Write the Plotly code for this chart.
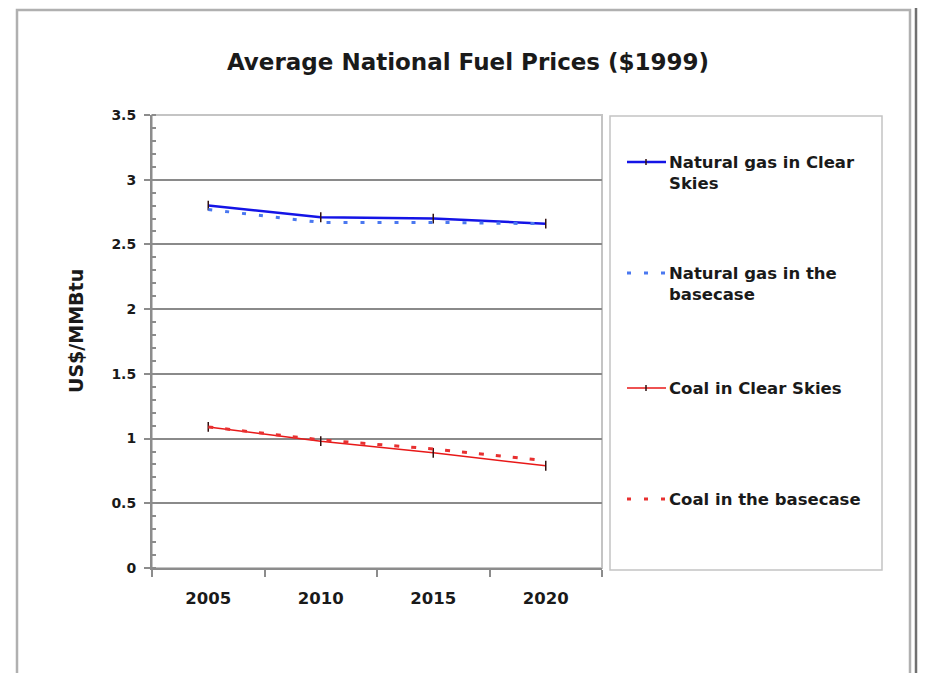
import plotly.graph_objects as go

# data
years = ["2005", "2010", "2015", "2020"]
ng_clear = [2.80, 2.71, 2.70, 2.66]
ng_base = [2.77, 2.67, 2.67, 2.66]
coal_clear = [1.09, 0.98, 0.89, 0.79]
coal_base = [1.09, 0.99, 0.92, 0.83]

names = [
    "Natural gas in Clear<br>Skies",
    "Natural gas in the<br>basecase",
    "Coal in Clear Skies",
    "Coal in the basecase",
]
colors = ["#1414e6", "#4a78f0", "#e81818", "#e83030"]
dashes = ["solid", "4px,13px", "solid", "5px,12px"]
widths = [2.5, 3, 1.5, 3]
series = [ng_clear, ng_base, coal_clear, coal_base]

OFF = 8  # page body margin in the browser
W, H = 926 - OFF, 673 - OFF
L, R, T, B = 152, 602, 115, 568  # plot area in page pixels
FONT = "DejaVu Sans"


def px(x, y):
    # page pixel -> paper coords
    return (x - L) / (R - L), (B - y) / (B - T)


fig = go.Figure()
for i, vals in enumerate(series):
    fig.add_trace(go.Scatter(
        x=years, y=vals, mode="lines+markers" if dashes[i] == "solid" else "lines",
        line=dict(color=colors[i], width=widths[i], dash=dashes[i]),
        marker=dict(symbol="line-ns", size=7, line=dict(color="#301010", width=1.5)),
        showlegend=False, hoverinfo="x+y",
    ))

shapes = []
annotations = []

# plot border (light) and legend box
shapes.append(dict(type="rect", xref="paper", yref="paper", x0=0, y0=0, x1=1, y1=1,
                   line=dict(color="#c4c4c4", width=2), layer="below"))
lx0, ly0 = px(610, 570)
lx1, ly1 = px(882, 116)
shapes.append(dict(type="rect", xref="paper", yref="paper", x0=lx0, y0=ly0, x1=lx1, y1=ly1,
                   line=dict(color="#c4c4c4", width=1.5)))

# outer frame
fx0, fy0 = px(17, 700)
fx1, fy1 = px(910, 10)
shapes.append(dict(type="rect", xref="paper", yref="paper", x0=fx0, y0=fy0, x1=fx1, y1=fy1,
                   line=dict(color="#b0b0b0", width=2.5)))
dx, _ = px(916, 0)
shapes.append(dict(type="line", xref="paper", yref="paper", x0=dx, x1=dx, y0=px(0, 700)[1], y1=px(0, 0)[1],
                   line=dict(color="#707070", width=2.5)))

# legend entries
legend_y = [162, 273, 388, 499]
for i, name in enumerate(names):
    sx0, sy = px(627, legend_y[i])
    sx1, _ = px(666, legend_y[i])
    shapes.append(dict(type="line", xref="paper", yref="paper", x0=sx0, x1=sx1, y0=sy, y1=sy,
                       line=dict(color=colors[i], width=widths[i] if dashes[i] == "solid" else 3,
                                 dash=dashes[i] if dashes[i] == "solid" else "4px,13px")))
    if dashes[i] == "solid":
        mx, _ = px(646, legend_y[i])
        shapes.append(dict(type="line", xref="paper", yref="paper", x0=mx, x1=mx,
                           y0=px(0, legend_y[i] + 3)[1], y1=px(0, legend_y[i] - 3)[1],
                           line=dict(color="#301010", width=1.5)))
    tx, _ = px(667, 0)
    ty = px(0, legend_y[i] - 11)[1]
    annotations.append(dict(x=tx, y=ty, xref="paper", yref="paper", text="<b>" + name + "</b>",
                            showarrow=False, xanchor="left", yanchor="top", align="left",
                            font=dict(family=FONT, size=16.5, color="#1a1a1a")))

# y axis title
ax, ay = px(76, 331)
annotations.append(dict(x=ax, y=ay, xref="paper", yref="paper", text="<b>US$/MMBtu</b>",
                        textangle=-90, showarrow=False, xanchor="center", yanchor="middle",
                        font=dict(family=FONT, size=19, color="#1a1a1a")))

fig.update_layout(
    width=W, height=H,
    margin=dict(l=L - OFF, r=W - (R - OFF), t=T - OFF, b=H - (B - OFF), pad=0),
    paper_bgcolor="white", plot_bgcolor="white",
    title=dict(text="<b>Average National Fuel Prices ($1999)</b>", x=(468 - OFF) / W, xanchor="center",
               y=1 - (62 - OFF) / H, yanchor="middle",
               font=dict(family=FONT, size=23, color="#1a1a1a")),
    shapes=shapes, annotations=annotations,
    font=dict(family=FONT, color="#1a1a1a"),
)
fig.update_xaxes(
    type="category", range=[-0.5, 3.5], showgrid=False,
    showline=True, linecolor="#8c8c8c", linewidth=2,
    ticks="outside", tickson="boundaries", ticklen=7, tickcolor="#8c8c8c", tickwidth=1.5,
    tickfont=dict(family=FONT, size=16.5, color="#1a1a1a", weight="bold"),
    ticklabelstandoff=14, fixedrange=True,
)
fig.update_yaxes(
    range=[0, 3.5], dtick=0.5, showgrid=True, gridcolor="#8a8a8a", gridwidth=2,
    zeroline=False, showline=True, linecolor="#8c8c8c", linewidth=2,
    ticks="outside", ticklen=6, tickcolor="#8c8c8c", tickwidth=1.5,
    minor=dict(dtick=0.1, ticks="inside", ticklen=4, tickcolor="#8c8c8c", showgrid=False),
    tickfont=dict(family=FONT, size=14, color="#1a1a1a", weight="bold"),
    ticklabelstandoff=5, fixedrange=True,
)

fig.write_html("out.html")
